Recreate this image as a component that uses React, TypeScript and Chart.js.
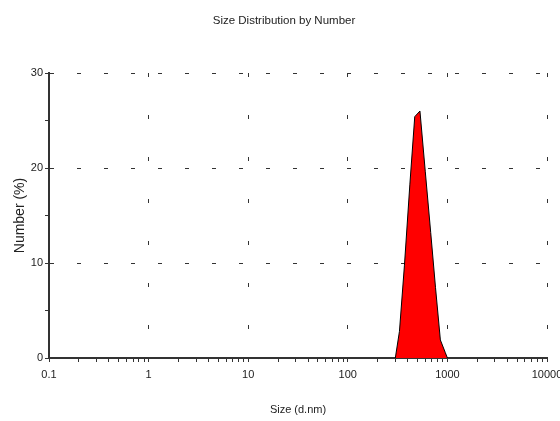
import React, { useEffect, useRef } from "react";
import { Chart, registerables } from "chart.js";

Chart.register(...registerables);

const chartTitle = "Size Distribution by Number";
const sizes = [300, 330, 370, 420, 470, 530, 600, 680, 760, 850, 950, 1000];
const numbers = [0, 2.8, 9.7, 18.3, 25.4, 26.0, 19.6, 13.2, 7.4, 1.9, 0.6, 0];

const xTickValues: number[] = [];
for (const d of [0.1, 1, 10, 100, 1000]) {
  for (let k = 1; k <= 9; k++) xTickValues.push(+(d * k).toPrecision(6));
}
xTickValues.push(10000);
const yTickValues = [0, 5, 10, 15, 20, 25, 30];
const yLabeled = [0, 10, 20, 30];

const isDecade = (v: number) => Math.abs(Math.log10(v) - Math.round(Math.log10(v))) < 1e-9;
const fontFamily = "'Liberation Sans', Arial, sans-serif";

const titlePlugin = {
  id: "topTitle",
  afterDraw(chart: any) {
    const ctx = chart.ctx;
    ctx.save();
    ctx.fillStyle = "#222";
    ctx.font = `11.5px ${fontFamily}`;
    ctx.textAlign = "center";
    ctx.textBaseline = "middle";
    ctx.fillText(chartTitle, 284, 21);
    ctx.restore();
  },
};

export default function App() {
  const ref = useRef<HTMLCanvasElement | null>(null);
  useEffect(() => {
    if (!ref.current) return;
    const chart = new Chart(ref.current, {
      type: "line",
      data: {
        datasets: [
          {
            data: sizes.map((s, i) => ({ x: s, y: numbers[i] })),
            borderColor: "#000",
            borderWidth: 1,
            backgroundColor: "#ff0000",
            fill: "origin",
            pointRadius: 0,
            tension: 0,
          },
        ],
      },
      plugins: [titlePlugin],
      options: {
        responsive: false,
        animation: false,
        layout: { padding: { left: 0, right: 13, top: 73, bottom: 0 } },
        plugins: {
          legend: { display: false },
          tooltip: { enabled: false },
          title: { display: false },
        },
        scales: {
          x: {
            type: "logarithmic",
            min: 0.1,
            max: 10000,
            afterBuildTicks: (scale: any) => {
              scale.ticks = xTickValues.map((v) => ({ value: v }));
            },
            afterFit: (scale: any) => {
              scale.height = 63;
              scale.paddingLeft = 0;
              scale.paddingRight = 0;
            },
            ticks: {
              autoSkip: false,
              maxRotation: 0,
              padding: 6,
              color: "#222",
              font: { family: fontFamily, size: 11 },
              callback: (v: any) => {
                const n = Number(v);
                return isDecade(n) ? String(n) : "";
              },
            },
            grid: {
              color: (c: any) =>
                c.tick && isDecade(c.tick.value) && c.tick.value > 0.1 ? "#333" : "transparent",
              tickColor: "#333",
              tickLength: 4,
              lineWidth: 1,
            },
            border: { display: true, color: "#333", width: 2, dash: [4, 38] },
            title: {
              display: true,
              text: "Size (d.nm)",
              color: "#222",
              font: { family: fontFamily, size: 11 },
              padding: { top: 0, bottom: 4 },
            },
          },
          y: {
            type: "linear",
            min: 0,
            max: 30,
            afterBuildTicks: (scale: any) => {
              scale.ticks = yTickValues.map((v) => ({ value: v }));
            },
            afterFit: (scale: any) => {
              scale.width = 49;
              scale.paddingTop = 0;
              scale.paddingBottom = 0;
            },
            ticks: {
              autoSkip: false,
              padding: 2,
              color: "#222",
              font: { family: fontFamily, size: 11 },
              callback: (v: any) => (yLabeled.includes(Number(v)) ? String(v) : ""),
            },
            grid: {
              color: (c: any) =>
                c.tick && c.tick.value > 0 && c.tick.value % 10 === 0 ? "#333" : "transparent",
              tickColor: "#333",
              tickLength: 4,
              lineWidth: 1,
            },
            border: { display: true, color: "#333", width: 2, dash: [4, 23] },
            title: {
              display: true,
              text: "Number (%)",
              color: "#222",
              font: { family: fontFamily, size: 14 },
              padding: { top: 12, bottom: 0 },
            },
          },
        },
      },
    });
    return () => chart.destroy();
  }, []);
  return (
    <div style={{ position: "absolute", left: 0, top: 0, width: 560, height: 421, background: "#fff" }}>
      <canvas ref={ref} width={560} height={421} style={{ display: "block" }} />
    </div>
  );
}
